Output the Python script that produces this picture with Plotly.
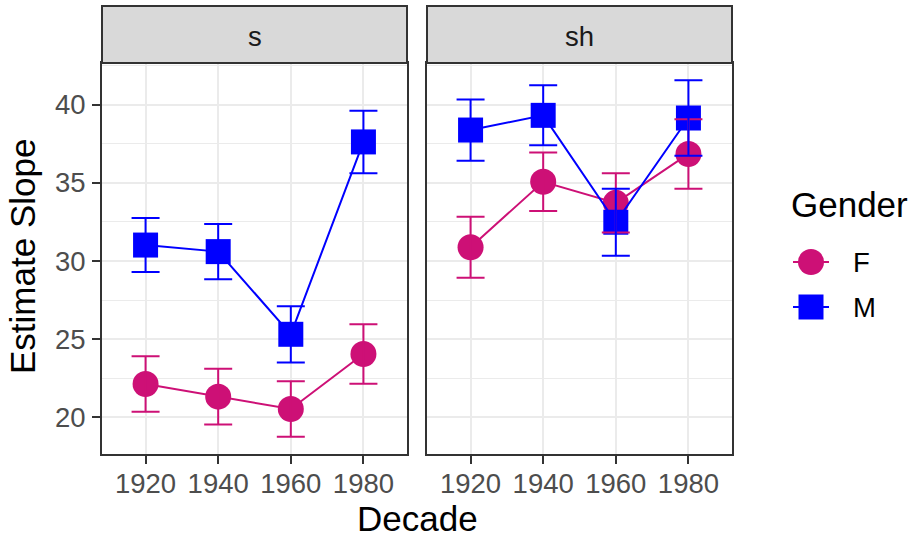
import plotly.graph_objects as go

# ---------------- data ----------------
decades = [1920, 1940, 1960, 1980]
panels = ["s", "sh"]
genders = ["F", "M"]

s_F = [22.13, 21.32, 20.53, 24.05]
s_F_err = [1.78, 1.78, 1.78, 1.90]
s_M = [31.02, 30.60, 25.31, 37.62]
s_M_err = [1.73, 1.77, 1.80, 2.00]

sh_F = [30.88, 35.07, 33.72, 36.85]
sh_F_err = [1.95, 1.87, 1.90, 2.22]
sh_M = [38.38, 39.32, 32.48, 39.15]
sh_M_err = [1.96, 1.92, 2.14, 2.42]

colors = {"F": "#CD1076", "M": "#0000FF"}
symbols = {"F": "circle", "M": "square"}

data = {
    ("s", "F"): (s_F, s_F_err),
    ("s", "M"): (s_M, s_M_err),
    ("sh", "F"): (sh_F, sh_F_err),
    ("sh", "M"): (sh_M, sh_M_err),
}

FONT = "Liberation Sans, Arial, Helvetica, sans-serif"
W, H = 922, 540
ML, MR, MT, MB = 102, 190, 5, 86
PW = W - ML - MR
PH = H - MT - MB


def px_x(px):
    return (px - ML) / PW


def px_y(py):
    return (H - MB - py) / PH


fig = go.Figure()
axis_of = {"s": ("x", "y"), "sh": ("x2", "y2")}

# lines + points
for p in panels:
    xa, ya = axis_of[p]
    for g in genders:
        vals, errs = data[(p, g)]
        fig.add_trace(go.Scatter(
            x=decades, y=vals, mode="lines+markers",
            line=dict(color=colors[g], width=2),
            marker=dict(symbol=symbols[g], size=26 if g == "F" else 25,
                        color=colors[g], line=dict(width=0)),
            xaxis=xa, yaxis=ya, showlegend=False, hoverinfo="skip"))
# error bars on top
for p in panels:
    xa, ya = axis_of[p]
    for g in genders:
        vals, errs = data[(p, g)]
        fig.add_trace(go.Scatter(
            x=decades, y=vals, mode="markers",
            marker=dict(size=1, opacity=0),
            error_y=dict(type="data", array=errs, visible=True,
                         color=colors[g], thickness=2, width=14),
            xaxis=xa, yaxis=ya, showlegend=False, hoverinfo="skip"))

yr = [17.65, 42.67]
xr = [1908, 1992]
ydom = [0, px_y(63)]

common_x = dict(range=xr, tickvals=decades, ticktext=[str(d) for d in decades],
                automargin=False, ticklabelstandoff=-4,
                showgrid=True, gridcolor="#EBEBEB", gridwidth=2,
                zeroline=False, showline=True, mirror=True, linecolor="#333333",
                linewidth=2, ticks="outside", ticklen=8, tickwidth=2,
                tickcolor="#333333",
                tickfont=dict(family=FONT, size=27.5, color="#4D4D4D"))
common_y = dict(range=yr, tickvals=[20, 25, 30, 35, 40], domain=ydom,
                automargin=False,
                showgrid=True, gridcolor="#EBEBEB", gridwidth=2,
                minor=dict(tickvals=[17.5, 22.5, 27.5, 32.5, 37.5, 42.5],
                           showgrid=True, gridcolor="#EBEBEB", gridwidth=1.2,
                           ticks=""),
                zeroline=False, showline=True, mirror=True, linecolor="#333333",
                linewidth=2, tickcolor="#333333",
                tickfont=dict(family=FONT, size=27.5, color="#4D4D4D"))

fig.update_layout(
    template="none",
    width=W, height=H,
    margin=dict(l=ML, r=MR, t=MT, b=MB, autoexpand=False),
    paper_bgcolor="white", plot_bgcolor="white",
    xaxis=dict(domain=[0, px_x(407)], anchor="y", **common_x),
    xaxis2=dict(domain=[px_x(427), 1], anchor="y2", **common_x),
    yaxis=dict(anchor="x", ticks="outside", ticklen=8, tickwidth=2,
               showticklabels=True, ticklabelstandoff=1, **common_y),
    yaxis2=dict(anchor="x2", matches="y", ticks="", showticklabels=False,
                **common_y),
    showlegend=False,
)

shapes = []
annotations = []
# strips
for p, (x0, x1) in zip(panels, [(0, px_x(407)), (px_x(427), 1)]):
    shapes.append(dict(type="rect", xref="paper", yref="paper",
                       x0=x0, x1=x1, y0=px_y(63), y1=px_y(6),
                       fillcolor="#D9D9D9", line=dict(color="#333333", width=2),
                       layer="above"))
    annotations.append(dict(text=p, xref="paper", yref="paper",
                            x=(x0 + x1) / 2, y=px_y(37), showarrow=False,
                            xanchor="center", yanchor="middle",
                            font=dict(family=FONT, size=27.5, color="#1A1A1A")))

# axis titles
annotations.append(dict(text="Decade", xref="paper", yref="paper",
                        x=px_x(417), y=px_y(518), showarrow=False,
                        xanchor="center", yanchor="middle", borderpad=0,
                        font=dict(family=FONT, size=35, color="black")))
annotations.append(dict(text="Estimate Slope", xref="paper", yref="paper",
                        x=px_x(22), y=px_y(257), showarrow=False, textangle=-90,
                        xanchor="center", yanchor="middle",
                        font=dict(family=FONT, size=35, color="black")))

# legend
annotations.append(dict(text="Gender", xref="paper", yref="paper",
                        x=px_x(789), y=px_y(204), showarrow=False,
                        xanchor="left", yanchor="middle",
                        font=dict(family=FONT, size=35, color="black")))
key_y = {"F": 262, "M": 307}
for g in genders:
    yk = px_y(key_y[g])
    shapes.append(dict(type="line", xref="paper", yref="paper",
                       x0=px_x(793), x1=px_x(829), y0=yk, y1=yk,
                       line=dict(color=colors[g], width=2)))
    half = 13 if g == "F" else 12.5
    shapes.append(dict(type="circle" if g == "F" else "rect",
                       xref="paper", yref="paper",
                       xsizemode="pixel", ysizemode="pixel",
                       xanchor=px_x(811), yanchor=yk,
                       x0=-half, x1=half, y0=-half, y1=half,
                       fillcolor=colors[g], line=dict(width=0)))
    annotations.append(dict(text=g, xref="paper", yref="paper",
                            x=px_x(851), y=yk, showarrow=False,
                            xanchor="left", yanchor="middle",
                            font=dict(family=FONT, size=27.5, color="black")))

fig.update_layout(shapes=shapes, annotations=annotations)
fig.write_html(
    "out.html",
    config={"displayModeBar": False},
    post_script="document.body.style.margin='0';document.body.style.overflow='hidden';",
)
